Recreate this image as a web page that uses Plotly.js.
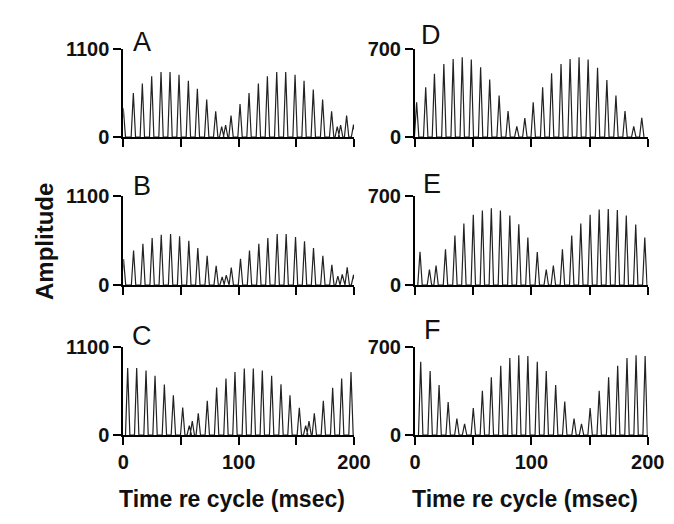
<!DOCTYPE html>
<html>
<head>
<meta charset="utf-8">
<script src="https://cdn.plot.ly/plotly-3.0.1.min.js"></script>
<style>html,body{margin:0;padding:0;background:#fff;}#chart{width:674px;height:524px;}</style>
</head>
<body>
<div id="chart"></div>
<script>
// Peak times (msec) and peak amplitudes
const timesA = [0, 8.7, 16.5, 24.6, 32.7, 40.5, 48.3, 56.4, 64.2, 72.3, 80.1, 85.3, 88.7, 93.4, 101.2, 109.0, 117.1, 124.9, 133.0, 140.8, 148.9, 156.7, 164.7, 172.8, 180.6, 185.5, 188.4, 193.6, 199.6];
const ampA   = [360, 550, 667, 758, 812, 812, 779, 704, 604, 467, 321, 130, 150, 267, 412, 550, 667, 758, 812, 812, 779, 704, 592, 467, 321, 130, 150, 267, 154];

const timesB = [0.2, 8.9, 17.0, 25.0, 32.9, 41.0, 48.8, 56.8, 64.6, 72.7, 80.5, 85.7, 89.2, 93.6, 101.6, 109.4, 117.5, 125.3, 133.4, 141.2, 149.3, 157.1, 164.9, 173.0, 180.8, 186.0, 189.8, 194.1, 199.6];
const ampB   = [320, 427, 510, 581, 622, 631, 602, 548, 456, 361, 237, 100, 120, 216, 324, 427, 510, 581, 631, 631, 593, 540, 456, 361, 249, 110, 130, 220, 124];

const timesC = [3.8, 11.6, 19.7, 27.5, 35.6, 43.4, 51.5, 57.2, 59.8, 65.0, 72.8, 80.9, 89.0, 96.8, 104.9, 112.7, 120.5, 128.6, 136.7, 144.5, 152.6, 158.1, 161.0, 165.6, 173.4, 181.5, 189.3, 197.4];
const ampC   = [838, 838, 805, 739, 631, 498, 344, 116, 174, 270, 427, 593, 705, 788, 830, 830, 805, 739, 635, 498, 340, 116, 174, 270, 427, 589, 705, 788];

const timesD = [1.4, 9.2, 16.7, 24.8, 32.8, 40.6, 48.4, 56.4, 64.2, 72.3, 80.0, 87.5, 94.4, 101.6, 109.7, 117.4, 125.5, 133.3, 141.0, 148.8, 156.9, 164.9, 172.7, 180.5, 188.0, 194.9];
const ampD   = [277, 396, 502, 581, 621, 634, 616, 555, 457, 330, 206, 85, 151, 277, 396, 507, 581, 621, 634, 616, 550, 454, 330, 206, 85, 153];

const timesE = [4.3, 12.4, 18.1, 26.2, 34.3, 42.0, 50.1, 57.9, 65.6, 73.4, 81.5, 89.2, 97.0, 105.1, 112.8, 118.9, 126.7, 134.7, 142.5, 150.5, 158.3, 166.1, 173.9, 181.6, 189.7, 197.5];
const ampE   = [262, 122, 153, 280, 389, 484, 552, 585, 603, 585, 547, 478, 374, 260, 122, 153, 280, 389, 484, 552, 593, 598, 590, 547, 476, 374];

const timesF = [4.9, 13.0, 20.7, 28.5, 36.0, 42.6, 50.1, 57.9, 65.6, 73.7, 81.5, 89.2, 97.0, 105.1, 112.8, 120.9, 128.7, 136.7, 143.1, 150.5, 158.3, 166.4, 174.2, 182.2, 190.0, 197.8];
const ampF   = [582, 508, 398, 262, 131, 89, 215, 351, 459, 550, 613, 634, 629, 582, 508, 398, 267, 131, 89, 215, 351, 459, 550, 613, 634, 629];

const panelLetters = ['A', 'B', 'C', 'D', 'E', 'F'];
const xTickVals = [0, 50, 100, 150, 200];
const xTickText = ['0', '', '100', '', '200'];
const yMaxLeft = 1100;
const yMaxRight = 700;
const xTitle = 'Time re cycle (msec)';
const yTitle = 'Amplitude';

const HW = 1.9; // half base width of each peak (msec)
function peakTrace(times, amps, xa, ya) {
  const x = [], y = [];
  for (let i = 0; i < times.length; i++) {
    x.push(times[i] - HW, times[i], times[i] + HW);
    y.push(0, amps[i], 0);
  }
  return {x: x, y: y, xaxis: xa, yaxis: ya, type: 'scatter', mode: 'lines',
          line: {color: '#222', width: 1.2}, hoverinfo: 'skip', showlegend: false};
}

const data = [
  peakTrace(timesA, ampA, 'x', 'y'),
  peakTrace(timesB, ampB, 'x2', 'y2'),
  peakTrace(timesC, ampC, 'x3', 'y3'),
  peakTrace(timesD, ampD, 'x4', 'y4'),
  peakTrace(timesE, ampE, 'x5', 'y5'),
  peakTrace(timesF, ampF, 'x6', 'y6')
];

const FONT = 'Liberation Sans, Arial, sans-serif';
const W = 674, H = 524;
const colX = [[123.3 / W, 354 / W], [415 / W, 647.7 / W]];
const rowY = [[1 - 137 / H, 1 - 49 / H], [1 - 285 / H, 1 - 196 / H], [1 - 435 / H, 1 - 347 / H]];

function xAxis(col, row, anchor) {
  return {domain: colX[col], anchor: anchor, range: [0, 200], showline: true, linecolor: '#000', linewidth: 2,
          ticks: 'outside', ticklen: 8, tickwidth: 2, tickcolor: '#000', tickvals: xTickVals, ticktext: xTickText,
          showticklabels: row === 2, showgrid: false, zeroline: false, fixedrange: true,
          tickfont: {family: FONT, size: 20, color: '#111', weight: 'bold'}};
}
function yAxis(col, row, anchor, ymax) {
  return {domain: rowY[row], anchor: anchor, range: [0, ymax], showline: true, linecolor: '#000', linewidth: 2,
          ticks: 'outside', ticklen: 8, tickwidth: 2, tickcolor: '#000', tickvals: [0, ymax], ticktext: ['0', String(ymax)],
          showgrid: false, zeroline: false, fixedrange: true,
          tickfont: {family: FONT, size: 20, color: '#111', weight: 'bold'}};
}

const letterPos = [[142, 42], [142, 186], [142, 336], [431, 35], [432, 184], [432, 330]];
const annotations = panelLetters.map((L, i) => ({
  text: L, xref: 'paper', yref: 'paper', x: letterPos[i][0] / W, y: 1 - letterPos[i][1] / H,
  xanchor: 'center', yanchor: 'middle', showarrow: false,
  font: {family: FONT, size: 27, color: '#111'}
}));
annotations.push({text: xTitle, xref: 'paper', yref: 'paper', x: 232 / W, y: 1 - 499 / H,
  xanchor: 'center', yanchor: 'middle', showarrow: false, font: {family: FONT, size: 23, color: '#111', weight: 'bold'}});
annotations.push({text: xTitle, xref: 'paper', yref: 'paper', x: 525 / W, y: 1 - 499 / H,
  xanchor: 'center', yanchor: 'middle', showarrow: false, font: {family: FONT, size: 23, color: '#111', weight: 'bold'}});
annotations.push({text: yTitle, xref: 'paper', yref: 'paper', x: 44 / W, y: 1 - 242 / H, textangle: -90,
  xanchor: 'center', yanchor: 'middle', showarrow: false, font: {family: FONT, size: 24, color: '#111', weight: 'bold'}});

const layout = {
  width: W, height: H, margin: {l: 0, r: 0, t: 0, b: 0},
  paper_bgcolor: '#fff', plot_bgcolor: '#fff', showlegend: false,
  xaxis: xAxis(0, 0, 'y'), yaxis: yAxis(0, 0, 'x', yMaxLeft),
  xaxis2: xAxis(0, 1, 'y2'), yaxis2: yAxis(0, 1, 'x2', yMaxLeft),
  xaxis3: xAxis(0, 2, 'y3'), yaxis3: yAxis(0, 2, 'x3', yMaxLeft),
  xaxis4: xAxis(1, 0, 'y4'), yaxis4: yAxis(1, 0, 'x4', yMaxRight),
  xaxis5: xAxis(1, 1, 'y5'), yaxis5: yAxis(1, 1, 'x5', yMaxRight),
  xaxis6: xAxis(1, 2, 'y6'), yaxis6: yAxis(1, 2, 'x6', yMaxRight),
  annotations: annotations
};

Plotly.newPlot('chart', data, layout, {staticPlot: true, displayModeBar: false});
</script>
</body>
</html>
